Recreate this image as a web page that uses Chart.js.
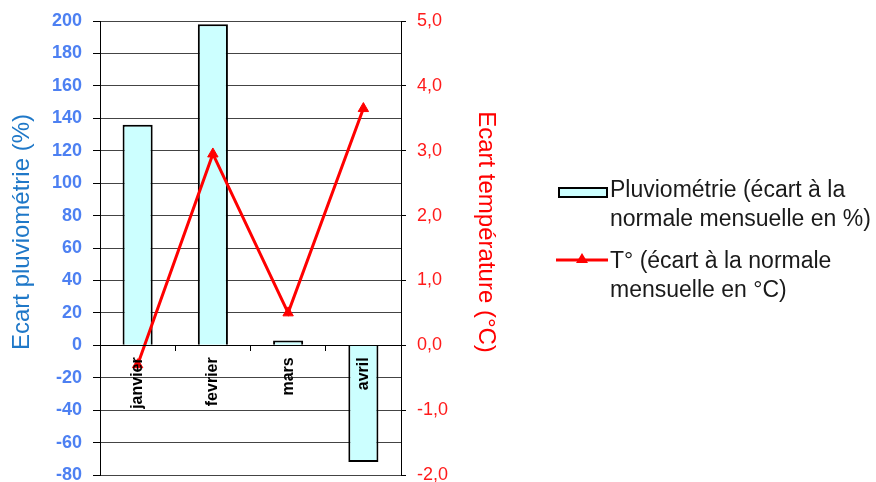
<!DOCTYPE html>
<html>
<head>
<meta charset="utf-8">
<script src="https://cdn.jsdelivr.net/npm/chart.js@4/dist/chart.umd.min.js"></script>
<style>
  html, body { margin: 0; padding: 0; background: #fff; }
  #wrap { position: relative; width: 876px; height: 482px; overflow: hidden; }
  #c { position: absolute; left: 0; top: 0; }
  .lg-text { position: absolute; font-family: Arial, "Liberation Sans", sans-serif; font-size: 23px; line-height: 29px; color: #1a1a1a; white-space: nowrap; }
  .lg-box { position: absolute; background: #CCFFFF; border: 2px solid #000; box-sizing: border-box; }
</style>
</head>
<body>
<div id="wrap">
  <canvas id="c" width="876" height="482"></canvas>
  <div class="lg-box" style="left:558px; top:187px; width:50px; height:11px;"></div>
  <div class="lg-text" style="left:610px; top:175px;">Pluviométrie (écart à la<br>normale mensuelle en %)</div>
  <svg style="position:absolute; left:554px; top:249px;" width="56" height="22">
    <line x1="2" y1="11" x2="54" y2="11" stroke="#FF0000" stroke-width="3"/>
    <polygon points="28,4 34,14 22,14" fill="#FF0000"/>
  </svg>
  <div class="lg-text" style="left:610px; top:246px;">T° (écart à la normale<br>mensuelle en °C)</div>
</div>
<script>
const categories = ['janvier', 'fevrier', 'mars', 'avril'];
const pluviometrie = [136, 198, 3, -72];
const temperature = [-0.3, 2.95, 0.5, 3.65];
const pluvioAxis = { min: -80, max: 200, step: 20 };
const tempAxis = { min: -2, max: 5, step: 1 };
const leftTitle = 'Ecart pluviométrie (%)';
const rightTitle = 'Ecart température (°C)';

const titlesPlugin = {
  id: 'axisTitles',
  afterDraw(chart) {
    const { ctx, chartArea } = chart;
    const cy = (chartArea.top + chartArea.bottom) / 2 - 16;
    ctx.save();
    ctx.font = '24px Arial, "Liberation Sans", sans-serif';
    ctx.textAlign = 'center';
    ctx.textBaseline = 'middle';
    ctx.fillStyle = '#1F78C8';
    ctx.translate(chart.scales.y.left + 22, cy);
    ctx.rotate(-Math.PI / 2);
    ctx.fillText(leftTitle, 0, 0);
    ctx.restore();
    ctx.save();
    ctx.font = '24px Arial, "Liberation Sans", sans-serif';
    ctx.textAlign = 'center';
    ctx.textBaseline = 'middle';
    ctx.fillStyle = '#FF0000';
    ctx.translate(chartArea.right + 85, cy);
    ctx.rotate(Math.PI / 2);
    ctx.fillText(rightTitle, 0, 0);
    ctx.restore();
  }
};

new Chart(document.getElementById('c'), {
  data: {
    labels: categories,
    datasets: [
      {
        type: 'line',
        label: 'T° (écart à la normale mensuelle en °C)',
        data: temperature,
        yAxisID: 'y1',
        borderColor: '#FF0000',
        backgroundColor: '#FF0000',
        borderWidth: 3,
        pointStyle: 'triangle',
        pointRadius: 6,
        pointBorderWidth: 1,
        tension: 0,
        order: 0
      },
      {
        type: 'bar',
        label: 'Pluviométrie (écart à la normale mensuelle en %)',
        data: pluviometrie,
        yAxisID: 'y',
        backgroundColor: '#CCFFFF',
        borderColor: '#000000',
        borderWidth: 2,
        categoryPercentage: 1,
        barPercentage: 0.4,
        order: 1
      }
    ]
  },
  options: {
    responsive: false,
    animation: false,
    devicePixelRatio: 1,
    layout: { padding: { left: 0, top: 21, right: 375, bottom: 6 } },
    plugins: { legend: { display: false }, tooltip: { enabled: false } },
    scales: {
      x: {
        type: 'category',
        position: { y: 0 },
        offset: true,
        grid: { drawOnChartArea: false, drawTicks: true, tickLength: 5, offset: true, color: '#000', tickColor: '#000' },
        border: { display: true, color: '#000', width: 1, z: 1 },
        ticks: {
          z: 1,
          minRotation: 90, maxRotation: 90, autoSkip: false, padding: 7,
          color: '#000',
          font: { family: 'Arial, "Liberation Sans", sans-serif', size: 16, weight: 'bold' }
        }
      },
      y: {
        type: 'linear',
        position: 'left',
        min: pluvioAxis.min, max: pluvioAxis.max,
        afterFit(s) { s.width = 100; s.paddingTop = 0; s.paddingBottom = 0; },
        grid: { color: '#444', lineWidth: 1, drawTicks: true, tickLength: 7, tickColor: '#000' },
        border: { display: true, color: '#000', width: 1 },
        ticks: {
          stepSize: pluvioAxis.step, padding: 11, color: '#4D80F2',
          font: { family: 'Arial, "Liberation Sans", sans-serif', size: 18, weight: 'bold' }
        }
      },
      y1: {
        type: 'linear',
        position: 'right',
        min: tempAxis.min, max: tempAxis.max,
        afterFit(s) { s.width = 100; s.paddingTop = 0; s.paddingBottom = 0; },
        grid: { drawOnChartArea: false, drawTicks: true, tickLength: 5, color: '#000', tickColor: '#000' },
        border: { display: true, color: '#000', width: 1 },
        ticks: {
          stepSize: tempAxis.step, padding: 11, color: '#FF1A1A',
          font: { family: 'Arial, "Liberation Sans", sans-serif', size: 18 },
          callback: v => v.toFixed(1).replace('.', ',')
        }
      }
    }
  },
  plugins: [titlesPlugin]
});
</script>
</body>
</html>
